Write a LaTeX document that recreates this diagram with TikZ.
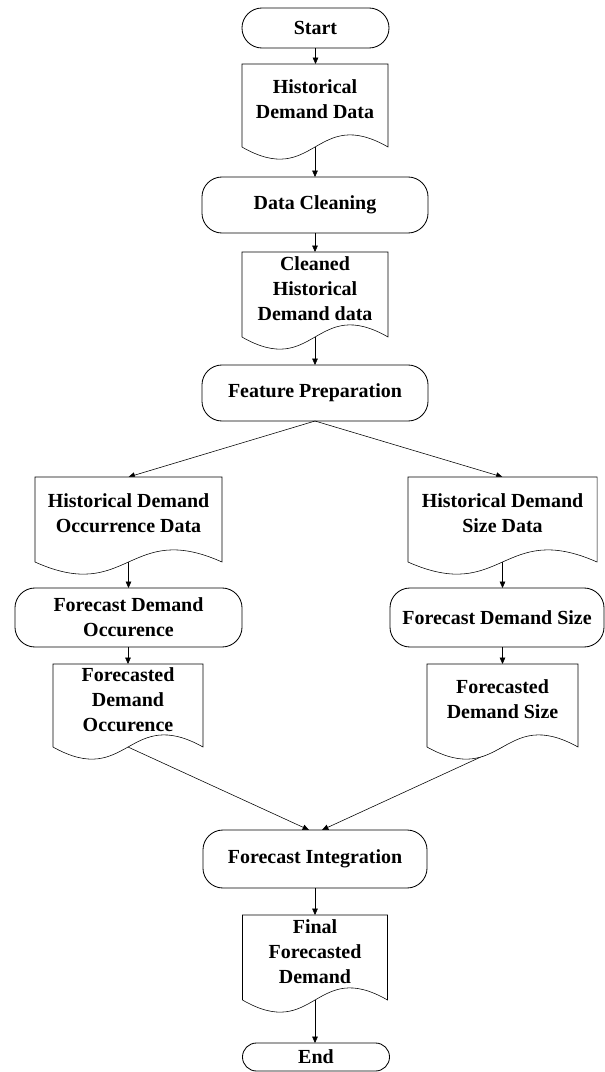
\documentclass[tikz,border=0pt]{standalone}
\usepackage{fontspec}
\setmainfont{Liberation Serif}
\usetikzlibrary{arrows.meta,calc}
\pgfdeclarelayer{bg}
\pgfdeclarelayer{frame}
\pgfsetlayers{bg,frame,main}
% cadre en forme de document (bas ondule)
\newcommand{\docframe}[1]{%
  \draw[fill=white] (#1.north west) -- (#1.north east) -- (#1.south east)
    .. controls ($(#1.south)+(0,-42)$) and ($(#1.south)+(0,42)$) .. (#1.south west) -- cycle;}
\begin{document}
\begin{tikzpicture}[x=0.025cm,y=-0.025cm,line width=0.6pt,
    font=\fontsize{14.2}{17.8}\selectfont\bfseries,
    term/.style={draw,rounded corners=5mm,align=center,outer sep=0pt,inner sep=1pt},
    doc/.style={align=center,outer sep=0pt,inner sep=1pt,text depth=9pt},
    arr/.style={-{Triangle[length=1.6mm,width=1.4mm]}}]
    \useasboundingbox (0,0) rectangle (605,1072);
    \node[term,minimum width=36.75mm,minimum height=10mm] (start) at (315.5,28) {Start}; %Debut
    \node[doc,minimum width=36.5mm,minimum height=20.75mm] (hdd) at (315,105.5) {Historical\\Demand Data};
    \node[term,minimum width=56.5mm,minimum height=14mm] (clean) at (315,205) {Data Cleaning};
    \node[doc,minimum width=36.5mm,minimum height=21.25mm] (cdata) at (315,294.5) {Cleaned\\Historical\\Demand data};
    \node[term,minimum width=56.5mm,minimum height=14mm] (feat) at (315,393) {Feature Preparation};
    \node[doc,minimum width=46.75mm,minimum height=21.25mm] (hocc) at (128.5,519.5) {Historical Demand\\Occurrence Data}; %Branche gauche
    \node[doc,minimum width=47.25mm,minimum height=21.25mm] (hsize) at (502.5,519.5) {Historical Demand\\Size Data}; %Branche droite
    \node[term,minimum width=56.75mm,minimum height=14.75mm] (fcocc) at (128.5,617.5) {Forecast Demand\\Occurence};
    \node[term,minimum width=53.5mm,minimum height=14.75mm] (fcsize) at (497,617.5) {Forecast Demand Size};
    \node[doc,minimum width=37.5mm,minimum height=20.75mm] (fdocc) at (128,705.5) {Forecasted\\Demand\\Occurence};
    \node[doc,minimum width=37.75mm,minimum height=20.75mm] (fdsize) at (502.5,705.5) {Forecasted\\Demand Size};
    \node[term,minimum width=56mm,minimum height=14.5mm] (integ) at (315,859) {Forecast Integration};
    \node[doc,minimum width=36.25mm,minimum height=21.25mm] (final) at (315,957.5) {Final\\Forecasted\\Demand};
    \node[term,rounded corners=3.5mm,minimum width=36.75mm,minimum height=7mm] (endn) at (316,1057) {End}; %Fin
    \begin{pgfonlayer}{frame}
        \docframe{hdd} \docframe{cdata} \docframe{hocc} \docframe{hsize}
        \docframe{fdocc} \docframe{fdsize} \docframe{final}
    \end{pgfonlayer}
    \begin{pgfonlayer}{bg}
        \draw[arr] (start.south |- start.south) -- (start.south |- hdd.north);
        \draw[arr] (hdd.south) -- (hdd.south |- clean.north);
        \draw[arr] (clean.south) -- (clean.south |- cdata.north);
        \draw[arr] (cdata.south) -- (cdata.south |- feat.north);
        \draw[arr] (feat.south) -- (hocc.north);
        \draw[arr] (feat.south) -- (hsize.north);
        \draw[arr] (hocc.south) -- (hocc.south |- fcocc.north);
        \draw[arr] (hsize.south) -- (hsize.south |- fcsize.north);
        \draw[arr] (fdocc.north |- fcocc.south) -- (fdocc.north);
        \draw[arr] (fdsize.north |- fcsize.south) -- (fdsize.north);
        \draw[arr] (fdocc.south) -- ([xshift=-1.5mm]integ.north); %Fusion
        \draw[arr] (fdsize.south) -- ([xshift=1.75mm]integ.north);
        \draw[arr] (integ.south) -- (integ.south |- final.north);
        \draw[arr] (final.south) -- (final.south |- endn.north);
    \end{pgfonlayer}
\end{tikzpicture}
\end{document}
